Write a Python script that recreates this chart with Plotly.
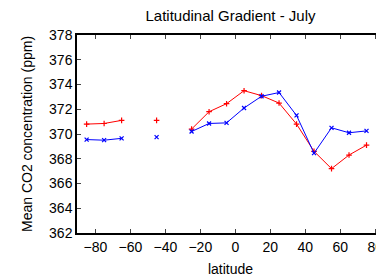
import plotly.graph_objects as go

latitude = [-85, -75, -65, -55, -45, -35, -25, -15, -5, 5, 15, 25, 35, 45, 55, 65, 75]
red_co2 = [370.8, 370.85, 371.1, None, 371.1, None, 370.4, 371.8, 372.45, 373.5, 373.1, 372.5, 370.8, 368.6, 367.2, 368.3, 369.1]
blue_co2 = [369.55, 369.5, 369.65, None, 369.75, None, 370.2, 370.85, 370.9, 372.1, 373.05, 373.35, 371.5, 368.45, 370.5, 370.1, 370.25]

fig = go.Figure()
fig.add_trace(go.Scatter(x=latitude, y=red_co2, mode="lines+markers",
                         line=dict(color="#ff0000", width=1),
                         marker=dict(symbol="cross-thin", size=4, line=dict(color="#ff0000", width=1.2)),
                         connectgaps=False, showlegend=False))
fig.add_trace(go.Scatter(x=latitude, y=blue_co2, mode="lines+markers",
                         line=dict(color="#0000ff", width=1),
                         marker=dict(symbol="x-thin", size=4, line=dict(color="#0000ff", width=1.2)),
                         connectgaps=False, showlegend=False))

fig.update_layout(
    width=376, height=272,
    margin=dict(l=69, r=0, t=27, b=47),
    paper_bgcolor="white", plot_bgcolor="white",
    font=dict(family="Liberation Sans, Arial, sans-serif", size=14, color="black"),
    title=dict(text="Latitudinal Gradient - July", xref="paper", x=0.5, xanchor="center",
               y=0.971, yanchor="middle", font=dict(size=15)),
    xaxis=dict(range=[-90.5, 85], tickvals=[-80, -60, -40, -20, 0, 20, 40, 60, 80],
               ticks="inside", ticklen=4, showline=True, linecolor="black", linewidth=1.5,
               mirror="ticks", showgrid=False, zeroline=False, automargin=False,
               tickfont=dict(size=14),
               title=dict(text="latitude", standoff=11, font=dict(size=14))),
    yaxis=dict(range=[362, 378], dtick=2, ticks="inside", ticklen=4, showline=True,
               linecolor="black", linewidth=1.5, showgrid=False, zeroline=False, automargin=False,
               tickfont=dict(size=14),
               title=dict(text="Mean CO2 concentration (ppm)", standoff=13, font=dict(size=14))),
)

fig.write_html("out.html")
